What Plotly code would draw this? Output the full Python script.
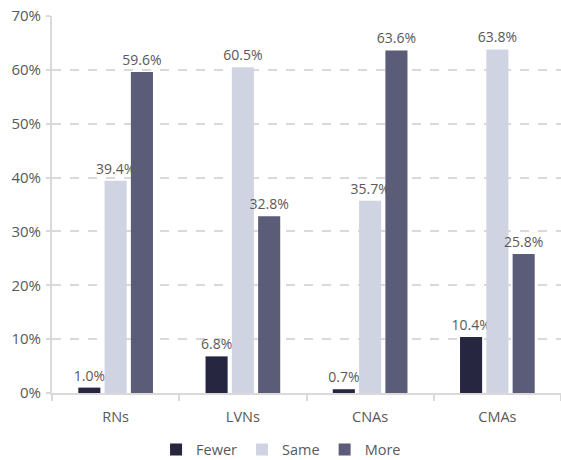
import plotly.graph_objects as go

categories = ["RNs", "LVNs", "CNAs", "CMAs"]
fewer = [1.0, 6.8, 0.7, 10.4]
same = [39.4, 60.5, 35.7, 63.8]
more = [59.6, 32.8, 63.6, 25.8]
y_ticks = [0, 10, 20, 30, 40, 50, 60, 70]

series = [
    ("Fewer", fewer, "#262640"),
    ("Same", same, "#D0D3E2"),
    ("More", more, "#5B5C78"),
]

font_family = "Open Sans, Liberation Sans, sans-serif"
text_color = "#595959"

fig = go.Figure()
for name, vals, color in series:
    fig.add_trace(go.Bar(
        name=name,
        x=categories,
        y=vals,
        marker=dict(color=color, line=dict(width=0)),
        text=[f"{v:.1f}%" for v in vals],
        textposition="outside",
        constraintext="none",
        cliponaxis=False,
        textfont=dict(size=14, color=text_color, family=font_family),
    ))

fig.update_layout(
    width=561,
    height=460,
    margin=dict(l=52, r=0, t=16, b=67, autoexpand=False),
    paper_bgcolor="white",
    plot_bgcolor="white",
    barmode="group",
    bargap=0.38,
    bargroupgap=0.16,
    font=dict(family=font_family, size=14, color=text_color),
    showlegend=True,
    legend=dict(
        orientation="h",
        x=0.45,
        xanchor="center",
        y=-0.15,
        yanchor="middle",
        font=dict(size=14.5, color=text_color),
        itemwidth=30,
        traceorder="normal",
    ),
    xaxis=dict(
        showline=True,
        linecolor="#D9D9D9",
        linewidth=2,
        ticks="outside",
        tickson="boundaries",
        ticklen=6,
        tickwidth=2,
        tickcolor="#D9D9D9",
        ticklabelstandoff=10,
        tickfont=dict(size=14.5, color=text_color),
        showgrid=False,
    ),
    yaxis=dict(
        range=[0, 70],
        tickvals=y_ticks,
        ticktext=[f"{t}%" for t in y_ticks],
        showline=True,
        linecolor="#D9D9D9",
        linewidth=2,
        showgrid=True,
        gridcolor="#D9D9D9",
        gridwidth=2,
        griddash="dash",
        zeroline=False,
        ticks="outside",
        ticklen=4,
        tickwidth=2,
        tickcolor="#D9D9D9",
        ticklabelstandoff=2,
        tickfont=dict(size=15, color=text_color),
    ),
)

fig.write_html("out.html")
